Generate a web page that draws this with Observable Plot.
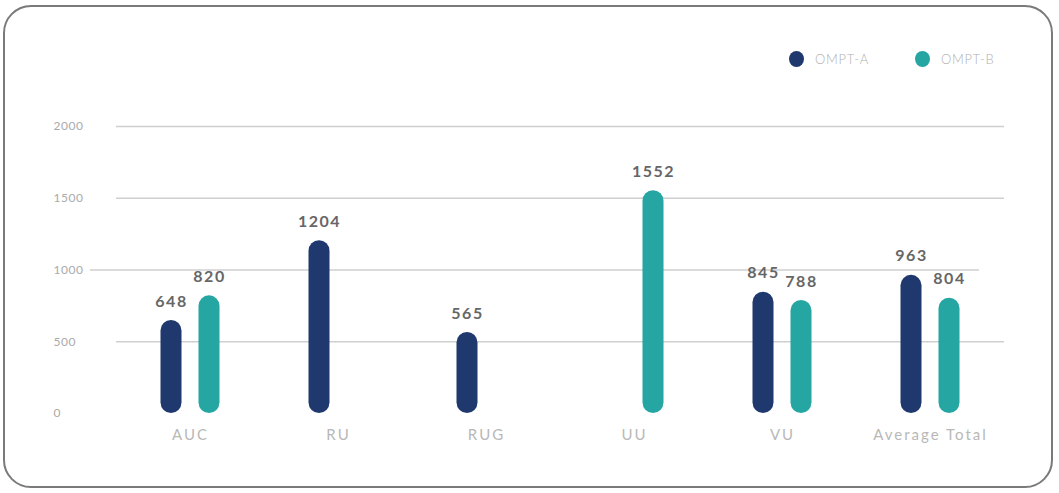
<!DOCTYPE html>
<html><head><meta charset="utf-8">
<script src="https://cdn.jsdelivr.net/npm/d3@7"></script>
<script src="https://cdn.jsdelivr.net/npm/@observablehq/plot@0.6"></script>
<style>
body{margin:0;background:#fff;font-family:Lato,sans-serif;}
#wrap{position:relative;width:1059px;height:493px;overflow:hidden;}
#frame{position:absolute;left:3px;top:5px;width:1046px;height:479px;border:2px solid #7a7a7a;border-radius:28px;pointer-events:none;z-index:2;}
#legend{position:absolute;top:51px;left:789px;display:flex;align-items:center;z-index:3;font-family:Lato,sans-serif;font-size:13px;font-weight:300;color:#b0b0b0;letter-spacing:0.7px;}
.item{display:flex;align-items:center;margin-right:46px;}
.sw{width:15px;height:16px;border-radius:50%;margin-right:11px;}
</style></head>
<body><div id="wrap"><div id="frame"></div><div id="legend"></div></div>
<script>
const categories = ["AUC","RU","RUG","UU","VU","Average Total"];
const series = ["OMPT-A","OMPT-B"];
const valuesA = [648,1204,565,null,845,963];
const valuesB = [820,null,null,1552,788,804];
const yTicks = [0,500,1000,1500,2000];
const colors = ["#1f386d","#25a6a3"];

const dataA = categories.map((c,i)=>({cat:c, value:valuesA[i]})).filter(d=>d.value!=null);
const dataB = categories.map((c,i)=>({cat:c, value:valuesB[i]})).filter(d=>d.value!=null);

const barOpts = {x:"cat", y:"value", insetLeft:63.5, insetRight:63.5, rx:10.5};
const textOpts = {x:"cat", y:"value", text:d=>String(d.value), dy:-19, fill:"#666", fontSize:16, fontWeight:700, lineAnchor:"middle"};

const plot = Plot.plot({
  width:1059, height:493,
  marginTop:126, marginBottom:80, marginLeft:116, marginRight:55,
  style:{fontFamily:"Lato, sans-serif", background:"transparent"},
  x:{domain:categories, padding:0, label:null},
  y:{domain:[0,2000], label:null},
  marks:[
    Plot.ruleY([500,1500,2000], {stroke:"#cfcfcf", strokeWidth:1.5}),
    Plot.ruleY([1000], {stroke:"#cfcfcf", strokeWidth:1.5, insetLeft:-26, insetRight:25}),
    Plot.axisY({ticks:yTicks, tickFormat:d=>String(d), tickSize:0, tickPadding:63, textAnchor:"start", fill:"#aaa", fontSize:12, label:null}),
    Plot.axisX({tickSize:0, tickPadding:16, fill:"#b8b8b8", fontSize:15, label:null}),
    Plot.barY(dataA, {...barOpts, fill:colors[0], dx:-19}),
    Plot.barY(dataB, {...barOpts, fill:colors[1], dx:19}),
    Plot.text(dataA, {...textOpts, dx:-19}),
    Plot.text(dataB, {...textOpts, dx:19})
  ]
});
const svg = d3.select(plot);
svg.selectAll('g[aria-label="x-axis tick label"]').style("letter-spacing","2px");
svg.selectAll('g[aria-label="text"]').style("letter-spacing","1.5px");
svg.selectAll('g[aria-label="y-axis tick label"]').style("letter-spacing","0.5px");
document.getElementById("wrap").prepend(plot);

const legend = d3.select("#legend");
series.forEach((s,i)=>{
  const it = legend.append("div").attr("class","item");
  it.append("div").attr("class","sw").style("background",colors[i]);
  it.append("span").text(s);
});
</script></body></html>
